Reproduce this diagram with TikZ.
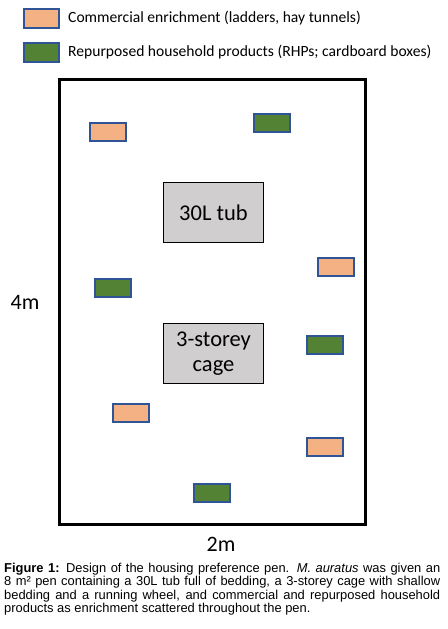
\documentclass[tikz,border=0pt]{standalone}
\usepackage{fontspec}
\setmainfont{Carlito}
\newfontfamily\capfont{Liberation Sans}
\usetikzlibrary{positioning}
\definecolor{edge}{HTML}{2F5597}
\definecolor{comm}{HTML}{F4B183}
\definecolor{rhp}{HTML}{548235}
\definecolor{unit}{HTML}{D0CECE}
\tikzset{
  item/.style={draw=edge, line width=2pt, minimum width=36pt, minimum height=18pt, inner sep=0pt},
  cbox/.style={item, fill=comm},
  gbox/.style={item, fill=rhp},
  kbox/.style={item, minimum width=35pt, minimum height=19pt},
  housing/.style={draw=black, line width=1.3pt, fill=unit, minimum width=99.5pt, minimum height=59.5pt,
    align=center, inner sep=0pt, font=\fontsize{22.5}{25}\selectfont},
  keytxt/.style={inner sep=0pt, font=\fontsize{15.6}{18}\selectfont},
  dim/.style={inner sep=0pt, font=\fontsize{22}{25}\selectfont},
}
\begin{document}
\begin{tikzpicture}[x=1pt,y=-1pt]
\useasboundingbox (0,0) rectangle (447,629);
% legend
\node[kbox, fill=comm] (kc) at (41.5,18) {};
\node[kbox, fill=rhp] (kg) at (41.5,52) {};
\node[keytxt, right=8pt of kc] (tc) {Commercial enrichment (ladders, hay tunnels)};
\node[keytxt, right=8pt of kg] (tg) {Repurposed household products (RHPs; cardboard boxes)};
% pen
\draw[line width=3pt] (59.5,79.5) rectangle (365.5,524);
\node[housing] (tub) at (213.5,212.5) {30L tub};
\node[housing] (cage) at (213.5,353.5) {3-storey\\cage};
% enrichment items
\node[cbox] (c1) at (108,132) {};
\node[gbox] (g1) at (272,123) {};
\node[cbox] (c2) at (336,267) {};
\node[gbox] (g2) at (113,287.5) {};
\node[gbox] (g3) at (325,344.5) {};
\node[cbox] (c3) at (131,413) {};
\node[cbox] (c4) at (325,446.5) {};
\node[gbox] (g4) at (212,492.5) {};
% dimensions
\node[dim] (h) at (25,302) {4m};
\node[dim] (w) at (221,544) {2m};
% caption
\node[anchor=north west, inner sep=0pt, text width=436pt, align=justify,
  font=\capfont\fontsize{12.9}{13.3}\selectfont] (cap) at (4,563)
  {\textbf{Figure 1:} Design of the housing preference pen. \textit{M. auratus} was given an\linebreak
   8 m² pen containing a 30L tub full of bedding, a 3-storey cage with shallow\linebreak
   bedding and a running wheel, and commercial and repurposed household\linebreak
   products as enrichment scattered throughout the pen.};
\end{tikzpicture}
\end{document}
